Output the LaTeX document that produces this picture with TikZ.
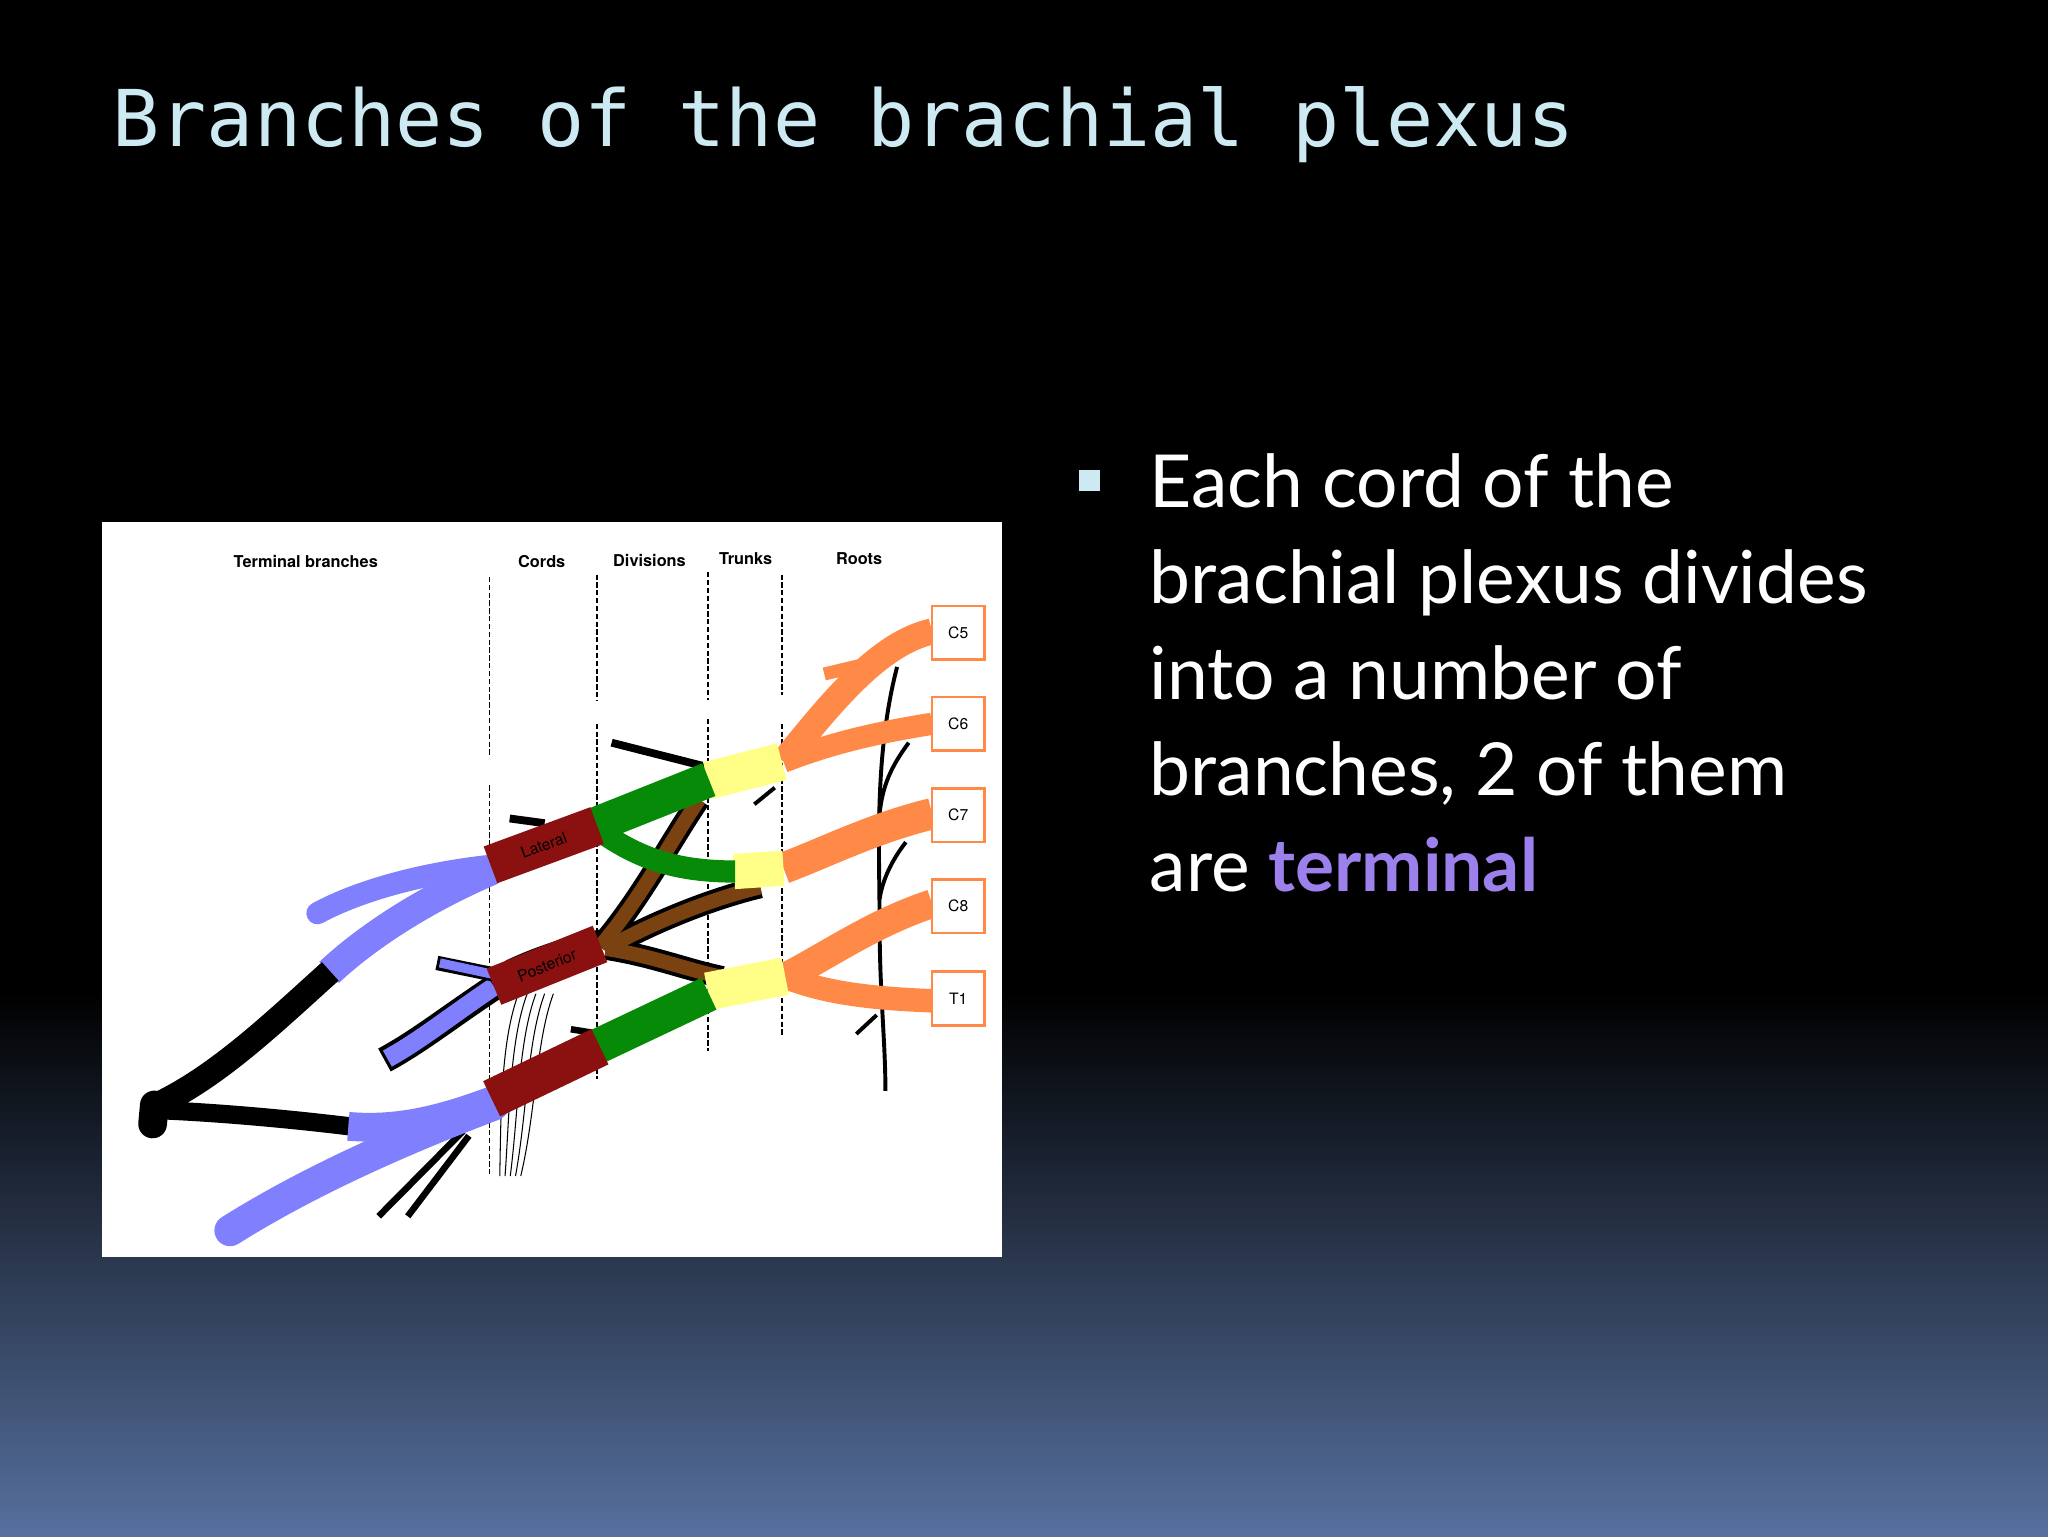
\documentclass[tikz,border=0pt]{standalone}
\usepackage{fontspec}
\setmainfont{Lato}
\newfontfamily\titlefont{DejaVu Sans Mono}
\newfontfamily\labfont{TeX Gyre Heros}
\definecolor{titleblue}{HTML}{CDEAF2}
\definecolor{bgbot}{HTML}{56709E}
\definecolor{orng}{HTML}{FF8A47}
\definecolor{yel}{HTML}{FFFF88}
\definecolor{grn}{HTML}{078A07}
\definecolor{brn}{HTML}{7A4210}
\definecolor{dred}{HTML}{8B1010}
\definecolor{purp}{HTML}{8080FF}
\definecolor{termc}{HTML}{9C80EC}
\begin{document}
\begin{tikzpicture}[x=1pt,y=-1pt,
  hdr/.style={font=\labfont\bfseries\fontsize{12.5}{12.5}\selectfont},
  rootbox/.style={draw=orng,line width=2pt,fill=white,minimum width=40pt,minimum height=41pt,font=\labfont\fontsize{12}{12}\selectfont,inner sep=2pt},
  band/.style={line width=#1,line cap=butt},
  divline/.style={dashed,line width=1pt,dash pattern=on 4pt off 2pt}]
\useasboundingbox (0,0) rectangle (1568,1176);
\fill[black] (0,0) rectangle (1568,760);
\shade[top color=black,bottom color=bgbot] (0,759) rectangle (1568,1176);
\node[anchor=base west,inner sep=0,text=titleblue,font=\titlefont\fontsize{60}{60}\selectfont] (title) at (86,112) {Branches of the brachial plexus};
% bullet text
\fill[titleblue] (826,360) rectangle (842,376);
\node[anchor=north west,inner sep=0,text=white,align=left,font=\fontsize{56}{73.5}\selectfont] (txt) at (880,347)
 {Each cord of the\\brachial plexus divides\\into a number of\\branches, 2 of them\\are {\bfseries\textcolor{termc}{terminal}}};
% diagram
\fill[white] (78,400) rectangle (767,962);
\begin{scope}[shift={(75.8,398.2)},x=0.446pt,y=-0.3626pt]
\node[hdr] (h1) at (355,88) {Terminal branches};
\node[hdr] (h2) at (760,88) {Cords};
\node[hdr] (h3) at (945,86) {Divisions};
\node[hdr] (h4) at (1110,82) {Trunks};
\node[hdr] (h5) at (1305,82) {Roots};
\draw[divline] (670,120) -- (670,500) (670,560) -- (670,1380);
\draw[divline] (855,115) -- (855,380) (855,430) -- (855,1180);
\draw[divline,line width=1.5pt] (1045,110) -- (1045,380) (1045,420) -- (1045,1120);
\draw[divline,line width=1.5pt] (1172,115) -- (1172,370) (1172,430) -- (1172,1090);
% vein
\draw[line width=3pt] (1370,310) .. controls (1330,500) and (1340,700) .. (1340,850) .. controls (1340,1000) and (1350,1100) .. (1350,1205);
\draw[line width=3pt] (1390,470) .. controls (1360,520) and (1345,560) .. (1340,620);
\draw[line width=3pt] (1385,680) .. controls (1360,720) and (1345,760) .. (1340,800);
\draw[line width=3pt] (1300,1085) -- (1335,1045);
% small black strands
\draw[line width=6pt] (880,470) -- (1040,520);
\draw[line width=6pt] (705,630) -- (765,640);
\draw[line width=5pt] (810,1075) -- (860,1085);
\draw[line width=3pt] (1125,600) -- (1160,565);
\draw[line width=5pt] (480,1470) -- (625,1290);
\draw[line width=5pt] (530,1470) -- (635,1300);
% nerve fibres
\foreach \d in {0,15,30,45,60}
  \draw[line width=0.8pt] (720+\d,1000) .. controls (690+\d,1100) and (690+\d,1250) .. (688+\d*0.6,1385);
% orange roots
\draw[orng,band=20pt] (1430,235) .. controls (1340,260) and (1260,380) .. (1175,510);
\draw[orng,band=10pt] (1330,300) -- (1245,325);
\draw[orng,band=17pt] (1430,430) .. controls (1330,450) and (1260,470) .. (1175,510);
\draw[orng,band=24pt] (1430,620) .. controls (1330,650) and (1250,700) .. (1175,735);
\draw[orng,band=22pt] (1430,810) .. controls (1330,850) and (1250,920) .. (1178,965);
\draw[orng,band=18pt] (1430,1015) .. controls (1330,1010) and (1250,1000) .. (1178,965);
% brown posterior divisions
\draw[black,band=17pt] (860,900) .. controls (930,800) and (980,680) .. (1030,590);
\draw[black,band=17pt] (870,905) .. controls (950,850) and (1050,800) .. (1135,775);
\draw[black,band=17pt] (870,905) .. controls (950,920) and (1010,950) .. (1070,965);
\draw[brn,band=11pt] (860,900) .. controls (930,800) and (980,680) .. (1030,590);
\draw[brn,band=11pt] (870,905) .. controls (950,850) and (1050,800) .. (1135,775);
\draw[brn,band=11pt] (870,905) .. controls (950,920) and (1010,950) .. (1070,965);
% yellow trunks
\draw[yel,band=29pt] (1045,550) -- (1172,510);
\draw[yel,band=27pt] (1090,742) -- (1175,735);
\draw[yel,band=29pt] (1045,995) -- (1178,963);
% green divisions
\draw[grn,band=27pt] (853,643) -- (1047,548);
\draw[grn,band=17pt] (855,652) .. controls (930,720) and (1000,742) .. (1092,742);
\draw[grn,band=27pt] (858,1110) -- (1047,1000);
% purple terminal branches
\draw[purp,band=17pt,line cap=round] (672,730) .. controls (560,745) and (450,780) .. (375,830);
\draw[purp,band=22pt] (675,740) .. controls (560,800) and (460,880) .. (395,955);
\draw[line width=19pt] (397,953) .. controls (300,1060) and (200,1180) .. (90,1240);
\draw[line width=14pt] (85,1245) .. controls (200,1250) and (330,1265) .. (430,1280);
\draw[line width=22pt,line cap=round] (95,1235) -- (92,1275);
\draw[purp,band=22pt] (428,1280) .. controls (520,1290) and (600,1260) .. (677,1225);
\draw[purp,band=24pt,line cap=round] (677,1235) .. controls (560,1290) and (380,1380) .. (225,1500);
\draw[black,band=20pt] (680,985) .. controls (600,1050) and (550,1100) .. (490,1140);
\draw[purp,band=14pt] (678,985) .. controls (600,1050) and (550,1100) .. (495,1137);
\draw[black,band=11pt] (580,935) -- (680,960);
\draw[purp,band=7pt] (585,935) -- (680,960);
% dark red cords
\draw[dred,band=30pt] (672,728) -- (855,645) node[midway,sloped,text=black,font=\labfont\fontsize{12}{12}\selectfont] (lat) {Lateral};
\draw[black,band=4pt] (700,935) .. controls (760,900) and (820,880) .. (860,870);
\draw[dred,band=30pt] (678,985) -- (860,895) node[midway,sloped,text=black,font=\labfont\fontsize{12}{12}\selectfont] (post) {Posterior};
\draw[dred,band=30pt] (674,1222) -- (860,1112);
% root boxes
\node[rootbox] (c5) at (1475,238) {C5};
\node[rootbox] (c6) at (1475,430) {C6};
\node[rootbox] (c7) at (1475,623) {C7};
\node[rootbox] (c8) at (1475,815) {C8};
\node[rootbox] (t1) at (1475,1010) {T1};
\end{scope}
\end{tikzpicture}
\end{document}
